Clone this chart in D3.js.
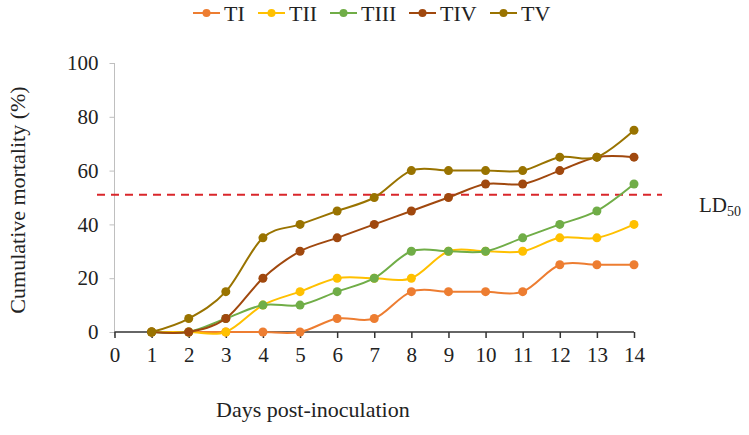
<!DOCTYPE html>
<html><head><meta charset="utf-8">
<script src="https://cdn.jsdelivr.net/npm/d3@7"></script>
<style>body{margin:0;background:#fff}svg{display:block}</style>
</head><body><svg id="c" width="749" height="435" style="font-family:'Liberation Serif','Times New Roman',serif"></svg>
<script>
const days = [1,2,3,4,5,6,7,8,9,10,11,12,13,14];
const seriesNames = ["TI","TII","TIII","TIV","TV"];
const TI   = [0,0,0,0,0,5,5,15,15,15,15,25,25,25];
const TII  = [0,0,0,10,15,20,20,20,30,30,30,35,35,40];
const TIII = [0,0,5,10,10,15,20,30,30,30,35,40,45,55];
const TIV  = [0,0,5,20,30,35,40,45,50,55,55,60,65,65];
const TV   = [0,5,15,35,40,45,50,60,60,60,60,65,65,75];
const xTicks = [0,1,2,3,4,5,6,7,8,9,10,11,12,13,14];
const yTicks = [0,20,40,60,80,100];
const ld50 = 51;
const colors = ["#ED7D31","#FFC000","#70AD47","#A0480E","#997300"];
const values = [TI,TII,TIII,TIV,TV];
const FF = "'Liberation Serif','Times New Roman',serif";

const svg = d3.select("#c");
const x = d3.scaleLinear().domain([0,14]).range([114.5,634]);
const y = d3.scaleLinear().domain([0,100]).range([332,63]);

// y axis
const ya = svg.append("g").attr("transform","translate(114.5,0)")
  .call(d3.axisLeft(y).tickValues(yTicks).tickSize(5).tickPadding(11));
ya.attr("font-family",FF).attr("font-size",21);
ya.select(".domain").attr("stroke","#bfbfbf").attr("d","M0,63V336");
ya.selectAll(".tick line").attr("stroke","#bfbfbf");
ya.selectAll(".tick text").attr("fill","#222");

// x axis
const xa = svg.append("g").attr("transform","translate(0,332)")
  .call(d3.axisBottom(x).tickValues(xTicks).tickSize(6).tickPadding(9).tickFormat(d3.format("d")));
xa.attr("font-family",FF).attr("font-size",21);
xa.select(".domain").attr("stroke","#333").attr("stroke-width",1.5).attr("d","M114.5,0H634");
xa.selectAll(".tick line").attr("stroke","#333").attr("stroke-width",1.5);
xa.selectAll(".tick text").attr("fill","#222");

// LD50 line
svg.append("line").attr("x1",97).attr("x2",662).attr("y1",y(ld50)).attr("y2",y(ld50))
  .attr("stroke","#D9262B").attr("stroke-width",2).attr("stroke-dasharray","8,6");
const ldt = svg.append("text").attr("x",699).attr("y",212).attr("font-size",21).attr("font-family",FF).attr("fill","#222");
ldt.append("tspan").text("LD");
ldt.append("tspan").attr("font-size",14).attr("dy",4).text("50");

// series
const line = d3.line().x((d,i)=>x(days[i])).y(d=>y(d)).curve(d3.curveCardinal.tension(0));
values.forEach((vals,k)=>{
  const g = svg.append("g");
  g.append("path").attr("d",line(vals)).attr("fill","none").attr("stroke",colors[k]).attr("stroke-width",2);
  g.selectAll("circle").data(vals).join("circle")
    .attr("cx",(d,i)=>x(days[i])).attr("cy",d=>y(d)).attr("r",4.5).attr("fill",colors[k]);
});

// legend
const starts = [193,258,330,409,490];
seriesNames.forEach((n,k)=>{
  const g = svg.append("g").attr("transform",`translate(${starts[k]},13)`);
  g.append("line").attr("x1",0).attr("x2",27).attr("stroke",colors[k]).attr("stroke-width",2);
  g.append("circle").attr("cx",13.5).attr("r",4).attr("fill",colors[k]);
  g.append("text").attr("x",31).attr("y",7.5).attr("font-size",22).attr("font-family",FF).attr("fill","#222").text(n);
});

// axis titles
svg.append("text").attr("transform","translate(25,200) rotate(-90)").attr("text-anchor","middle")
  .attr("font-size",22).attr("font-family",FF).attr("fill","#222").text("Cumulative mortality (%)");
svg.append("text").attr("x",216).attr("y",417).attr("font-size",22).attr("font-family",FF).attr("fill","#222").text("Days post-inoculation");
</script></body></html>
